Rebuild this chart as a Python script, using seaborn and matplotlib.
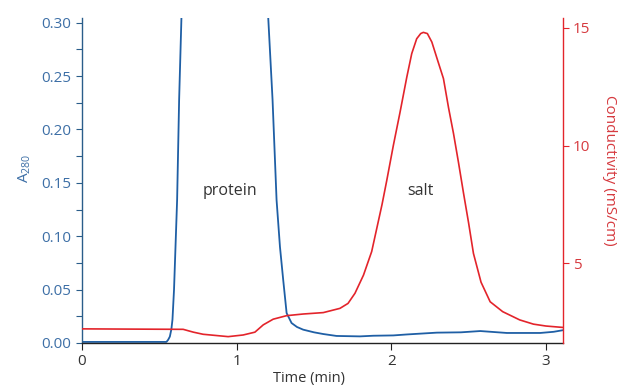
import matplotlib
matplotlib.use("Agg")
import matplotlib.pyplot as plt
import seaborn as sns
import pandas as pd
from matplotlib.ticker import MultipleLocator

# A280 trace (protein)
a280_time = [0, 0.3, 0.546, 0.557, 0.568, 0.578, 0.585, 0.595, 0.615, 0.628, 0.643,
             0.67, 0.72, 0.85, 0.95, 1.08, 1.17, 1.204, 1.232, 1.258, 1.280, 1.301,
             1.323, 1.355, 1.39, 1.43, 1.50, 1.56, 1.646, 1.797, 1.883, 2.013, 2.10,
             2.294, 2.45, 2.575, 2.747, 2.963, 3.05, 3.11]
a280_value = [0.001, 0.001, 0.001, 0.003, 0.006, 0.013, 0.022, 0.05, 0.134, 0.228, 0.305,
              0.45, 0.75, 1.2, 1.3, 1.0, 0.5, 0.305, 0.228, 0.134, 0.09, 0.059,
              0.028, 0.0187, 0.015, 0.0125, 0.010, 0.0084, 0.0066, 0.0062, 0.0068, 0.0071, 0.008,
              0.0097, 0.0100, 0.0112, 0.0094, 0.0094, 0.0105, 0.012]

# Conductivity trace (salt)
cond_time = [0, 0.3, 0.654, 0.72, 0.783, 0.945, 1.042, 1.118, 1.172, 1.236, 1.323,
             1.43, 1.56, 1.668, 1.72, 1.765, 1.82, 1.873, 1.94, 1.97, 2.013, 2.056,
             2.100, 2.132, 2.164, 2.19, 2.207, 2.233, 2.262, 2.30, 2.337, 2.37, 2.402,
             2.435, 2.467, 2.50, 2.531, 2.58, 2.639, 2.72, 2.83, 2.919, 3.00, 3.11]
cond_value = [2.22, 2.21, 2.20, 2.08, 1.99, 1.89, 1.96, 2.08, 2.39, 2.63, 2.78,
              2.85, 2.91, 3.09, 3.30, 3.73, 4.50, 5.50, 7.50, 8.50, 10.0, 11.4,
              12.9, 13.9, 14.53, 14.75, 14.80, 14.75, 14.39, 13.6, 12.84, 11.6, 10.51,
              9.25, 7.97, 6.7, 5.42, 4.2, 3.37, 2.95, 2.60, 2.42, 2.34, 2.28]

x_ticks = [0, 1, 2, 3]
left_ticks = [0.00, 0.05, 0.10, 0.15, 0.20, 0.25, 0.30]
right_ticks = [5, 10, 15]

BLUE = "#1f5fa5"
BLUE_TXT = "#3d6fa6"
RED = "#e3242b"
RED_TXT = "#d63a3f"

sns.set_style("white")
plt.rcParams['font.family'] = ['Open Sans', 'DejaVu Sans']
plt.rcParams['mathtext.default'] = 'regular'

fig = plt.figure(figsize=(6.28, 3.92), dpi=100)
ax = fig.add_axes([82/628, 49/392, 481/628, 325/392])
ax2 = ax.twinx()

df_a = pd.DataFrame({"t": a280_time, "v": a280_value})
df_c = pd.DataFrame({"t": cond_time, "v": cond_value})
sns.lineplot(data=df_a, x="t", y="v", ax=ax, color=BLUE, linewidth=1.3, sort=False)
sns.lineplot(data=df_c, x="t", y="v", ax=ax2, color=RED, linewidth=1.2, sort=False)

ax.set_xlim(0, 3.11)
ax.set_ylim(0, 0.3044)
ax2.set_ylim(1.62, 15.41)

ax.set_xticks(x_ticks)
ax.set_xticklabels([str(v) for v in x_ticks])
ax.set_yticks(left_ticks)
ax.set_yticklabels([f"{v:.2f}" for v in left_ticks])
ax.yaxis.set_minor_locator(MultipleLocator(0.025))
ax2.set_yticks(right_ticks)
ax2.set_yticklabels([str(v) for v in right_ticks])

ax.spines["top"].set_visible(False)
ax2.spines["top"].set_visible(False)
ax.spines["right"].set_visible(False)
ax2.spines["left"].set_visible(False)
ax2.spines["bottom"].set_visible(False)
ax.spines["left"].set_color("#2a5d8a")
ax.spines["bottom"].set_color("#222222")
ax2.spines["right"].set_color(RED)
for sp in [ax.spines["left"], ax.spines["bottom"], ax2.spines["right"]]:
    sp.set_linewidth(1.0)

ax.tick_params(axis="y", which="both", direction="out", left=True, colors="#2a5d8a",
               labelcolor=BLUE_TXT, labelsize=11, length=4, width=0.8, pad=4)
ax.tick_params(axis="y", which="minor", length=4)
ax.tick_params(axis="x", direction="out", bottom=True, colors="#222222",
               labelcolor="#333333", labelsize=11, length=5, width=0.8, pad=3)
ax2.tick_params(axis="y", direction="out", right=True, colors=RED,
                labelcolor=RED_TXT, labelsize=11, length=4, width=0.8, pad=3)

ax.set_xlabel("Time (min)", fontsize=10.5, color="#333333", labelpad=0)
ax.xaxis.set_label_coords((309-82)/481, -0.085)
ax.set_ylabel(r"A$_{280}$", fontsize=11, color=BLUE_TXT)
ax.yaxis.set_label_coords(-0.102, (343-168)/325)
ax2.set_ylabel("Conductivity (mS/cm)", fontsize=11, color=RED_TXT, rotation=270,
               labelpad=0)
ax2.yaxis.set_label_coords(1.112, (343-170)/325)

ax.text(0.955, 0.142, "protein", fontsize=11.5, color="#333333", ha="center", va="center")
ax.text(2.19, 0.142, "salt", fontsize=11.5, color="#333333", ha="center", va="center")

fig.savefig("out.png", dpi=100)
